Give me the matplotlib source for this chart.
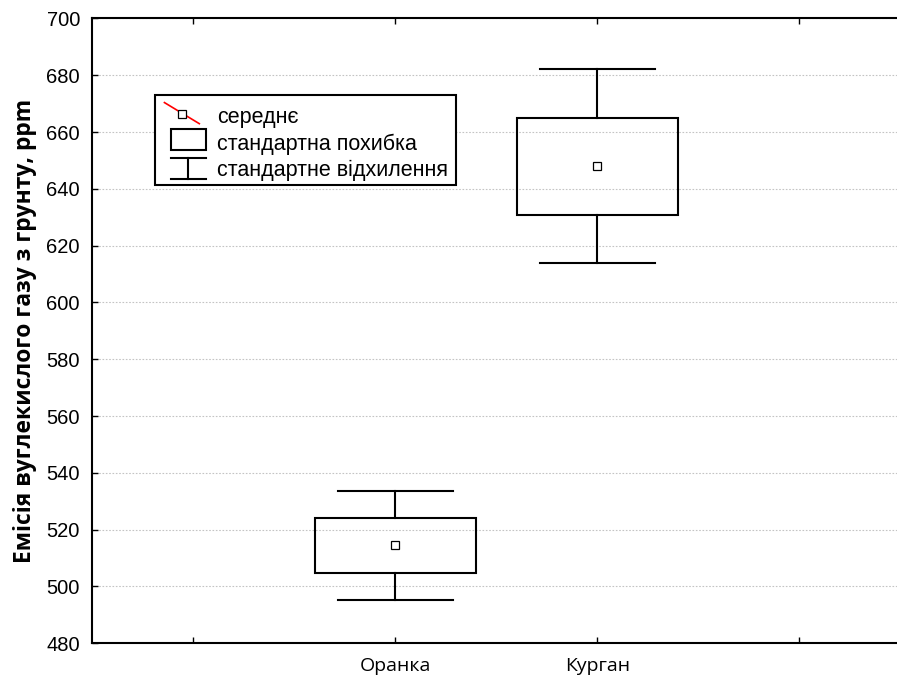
import matplotlib
matplotlib.use('Agg')
import matplotlib.pyplot as plt
from matplotlib.lines import Line2D
from matplotlib.patches import Rectangle
from matplotlib.legend_handler import HandlerBase

# data
categories = ['Оранка', 'Курган']
means = [514.5, 648.0]
std_err = [9.6, 17.1]
std_dev = [19.2, 34.1]

plt.rcParams['font.family'] = ['Liberation Sans', 'DejaVu Sans']

fig = plt.figure(figsize=(8.97, 6.76), dpi=100)
ax = fig.add_axes([0.1031, 0.0484, 0.9008, 0.9243])

positions = [1, 2]
box_w = 0.8
cap_w = 0.57

for x, m, se, sd in zip(positions, means, std_err, std_dev):
    # whiskers = standard deviation
    ax.plot([x, x], [m + se, m + sd], color='black', lw=1.5, zorder=3)
    ax.plot([x, x], [m - sd, m - se], color='black', lw=1.5, zorder=3)
    ax.plot([x - cap_w / 2, x + cap_w / 2], [m + sd, m + sd], color='black', lw=1.5, zorder=3)
    ax.plot([x - cap_w / 2, x + cap_w / 2], [m - sd, m - sd], color='black', lw=1.5, zorder=3)
    # box = standard error
    ax.add_patch(Rectangle((x - box_w / 2, m - se), box_w, 2 * se, fill=False,
                           edgecolor='black', lw=1.5, zorder=3))
    # mean
    ax.plot([x], [m], marker='s', ms=6, mfc='white', mec='black', mew=0.9, zorder=4)

ax.set_xlim(-0.5, 3.5)
ax.set_ylim(480, 700)
ax.set_yticks(range(480, 701, 20))
ax.set_xticks([0, 1, 2, 3])
ax.set_xticklabels(['', categories[0], categories[1], ''], fontfamily=['Open Sans', 'DejaVu Sans'],
                   fontsize=14)
ax.tick_params(axis='both', direction='in', length=4, width=1, top=True)
ax.tick_params(axis='y', labelsize=14.5, pad=9)
ax.tick_params(axis='x', pad=10)
ax.grid(axis='y', linestyle=(0, (1.5, 1.5)), color='#c4c4c4', lw=0.8)
for s in ax.spines.values():
    s.set_linewidth(1.5)
ax.spines['right'].set_visible(False)  # axes runs off the right edge of the picture

ax.set_ylabel('Емісія вуглекислого газу з грунту, ppm', fontsize=16.5, fontweight='bold',
              fontfamily=['Open Sans', 'DejaVu Sans'], labelpad=7)


class MeanHandler(HandlerBase):
    def create_artists(self, legend, orig, xd, yd, w, h, fs, trans):
        ln = Line2D([xd + 0.05 * w, xd + 0.84 * w], [yd + h * 1.08, yd - h * 0.32], color='red',
                    lw=1.2, transform=trans)
        mk = Line2D([xd + 0.45 * w], [yd + h * 0.33], marker='s', ms=6, mfc='white', mec='black',
                    mew=0.9, transform=trans)
        return [ln, mk]


class BoxHandler(HandlerBase):
    def create_artists(self, legend, orig, xd, yd, w, h, fs, trans):
        r = Rectangle((xd + 0.19 * w, yd - h * 0.3), 0.81 * w, h * 1.4, fill=False,
                      edgecolor='black', lw=1.5, transform=trans)
        return [r]


class WhiskerHandler(HandlerBase):
    def create_artists(self, legend, orig, xd, yd, w, h, fs, trans):
        x0, x1 = xd + 0.19 * w, xd + w
        y0, y1 = yd - h * 0.45, yd + h * 0.95
        top = Line2D([x0, x1], [y1, y1], color='black', lw=1.5, transform=trans)
        mid = Line2D([(x0 + x1) / 2] * 2, [y1, y0], color='black', lw=1.5, transform=trans)
        bot = Line2D([x0, x1], [y0, y0], color='black', lw=1.5, transform=trans)
        return [top, mid, bot]


h_mean = Line2D([], [])
h_box = Rectangle((0, 0), 1, 1)
h_whisk = Line2D([], [], ls='-')
leg = ax.legend([h_mean, h_box, h_whisk],
                ['середнє', 'стандартна похибка', 'стандартне відхилення'],
                handler_map={h_mean: MeanHandler(), h_box: BoxHandler(), h_whisk: WhiskerHandler()},
                loc='upper left', bbox_to_anchor=(0.077, 0.877), fontsize=15.5,
                frameon=True, fancybox=False, edgecolor='black', framealpha=1,
                handlelength=2.05, handleheight=0.7, handletextpad=0.5, borderpad=0.35,
                borderaxespad=0, labelspacing=0.25)
leg.get_frame().set_linewidth(1.5)
# nudge the labels a little lower inside the frame, like the reference
for t in leg.get_texts():
    t.set_y(-4)

fig.savefig('out.png', dpi=100)
